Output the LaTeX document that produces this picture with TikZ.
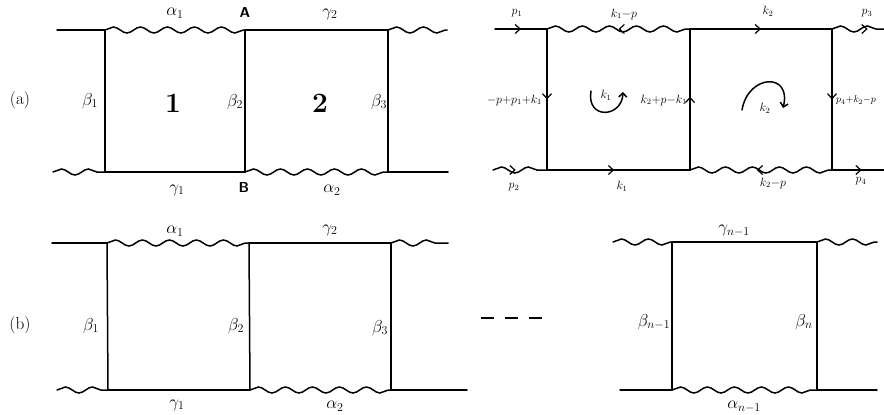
\documentclass[tikz,border=0pt]{standalone}
\usetikzlibrary{decorations.pathmorphing,decorations.markings,arrows.meta}
\tikzset{
  ln/.style={line width=1.5pt, line cap=round},
  wv/.style={line width=1.5pt, line cap=round, decorate, decoration={snake, segment length=27pt, amplitude=3pt}},
  midarr/.style={decoration={markings, mark=at position #1 with {\arrow[line width=1.2pt]{Straight Barb[length=5pt,width=9pt]}}}, postaction=decorate},
  lbl/.style={font=\LARGE, inner sep=1pt},
  slbl/.style={font=\large, inner sep=1pt},
  tag/.style={font=\LARGE, inner sep=1pt},
  big/.style={font=\fontsize{28}{28}\selectfont\bfseries, inner sep=1pt},
  vtx/.style={font=\Large\bfseries\sffamily, inner sep=1pt},
}
\begin{document}
\begin{tikzpicture}[x=1pt,y=-1pt]
\useasboundingbox (0,0) rectangle (884,415);
% ---------------- (a) left ----------------
\coordinate (a1) at (57,30); \coordinate (a2) at (105,30); \coordinate (a3) at (245,30);
\coordinate (a4) at (388,30); \coordinate (a5) at (447,30);
\coordinate (b0) at (53,172); \coordinate (b1) at (105,172); \coordinate (b2) at (245,172);
\coordinate (b3) at (388,172); \coordinate (b4) at (448,172);
\draw[ln] (a1) -- (a2);
\draw[wv] (a2) -- (a3);
\draw[ln] (a3) -- (a4);
\draw[wv] (a4) -- (a5);
\draw[wv] (b0) -- (b1);
\draw[ln] (b1) -- (b2);
\draw[wv] (b2) -- (b3);
\draw[ln] (b3) -- (b4);
\draw[ln] (a2) -- (b1);
\draw[ln] (a3) -- (b2);
\draw[ln] (a4) -- (b3);
\node[tag] (ta) at (20,100) {(a)};
\node[lbl] (la1) at (175,13) {$\alpha_1$};
\node[vtx] (lA) at (245,13) {A};
\node[lbl] (lg2) at (330,14) {$\gamma_2$};
\node[lbl] (lb1) at (90,101) {$\beta_1$};
\node[big] (n1) at (173,103) {1};
\node[lbl] (lb2) at (235,102) {$\beta_2$};
\node[big] (n2) at (320,103) {2};
\node[lbl] (lb3) at (379,102) {$\beta_3$};
\node[lbl] (lg1) at (177,190) {$\gamma_1$};
\node[vtx] (lB) at (244,188) {B};
\node[lbl] (la2) at (332,190) {$\alpha_2$};
% ---------------- (a) right ----------------
\coordinate (c0) at (495,29); \coordinate (c1) at (547,29); \coordinate (c2) at (690,29);
\coordinate (c3) at (832,29); \coordinate (c4) at (886,29);
\coordinate (d0) at (493,170); \coordinate (d1) at (547,170); \coordinate (d2) at (690,170);
\coordinate (d3) at (832,170); \coordinate (d4) at (886,170);
\draw[ln,midarr=0.5] (c0) -- (c1);
\draw[wv] (c1) -- (c2);
\path[midarr=0.5] (c2) -- (c1);
\draw[ln,midarr=0.5] (c2) -- (c3);
\draw[wv] (c3) -- (c4);
\path[midarr=0.66] (c3) -- (c4);
\draw[wv] (d0) -- (d1);
\path[midarr=0.42] (d0) -- (d1);
\draw[ln,midarr=0.47] (d1) -- (d2);
\draw[wv] (d2) -- (d3);
\path[midarr=0.53] (d3) -- (d2);
\draw[ln,midarr=0.55] (d3) -- (d4);
\draw[ln,midarr=0.5] (c1) -- (d1);
\draw[ln,midarr=0.52] (d2) -- (c2);
\draw[ln,midarr=0.5] (c3) -- (d3);
\node[slbl] (lp1) at (517,13) {$p_1$};
\node[slbl] (lk1p) at (624,14) {$k_1{-}p$};
\node[slbl] (lk2) at (768,11) {$k_2$};
\node[slbl] (lp3) at (867,13) {$p_3$};
\node[slbl,anchor=east] (lm1) at (543,100) {$-p{+}p_1{+}k_1$};
\node[slbl,anchor=east] (lm2) at (688,100) {$k_2{+}p{-}k_1$};
\node[slbl,anchor=west,font=\normalsize] (lm3) at (835,100) {$p_4{+}k_2{-}p$};
\node[slbl] (lp2) at (514,187) {$p_2$};
\node[slbl] (lk1) at (622,186) {$k_1$};
\node[slbl] (lk2p) at (773,183) {$k_2{-}p$};
\node[slbl] (lp4) at (861,181) {$p_4$};
% loop arrows
\coordinate (u0) at (591,91); \coordinate (u1) at (623,92);
\draw[ln,-{Straight Barb[length=4pt,width=8pt]}] (u0) .. controls (586,120) and (622,118) .. (u1);
\node[slbl] (lk1loop) at (606,95) {$k_1$};
\coordinate (v0) at (742,110); \coordinate (v1) at (783,108);
\draw[ln,-{Straight Barb[length=4pt,width=8pt]}] (v0) .. controls (748,74) and (792,72) .. (v1);
\node[slbl] (lk2loop) at (765,108) {$k_2$};
% ---------------- (b) left ----------------
\coordinate (e1) at (52,243); \coordinate (e2) at (107,243); \coordinate (e3) at (249,243);
\coordinate (e4) at (391,243); \coordinate (e5) at (448,243);
\coordinate (f0) at (57,390); \coordinate (f1) at (108,390); \coordinate (f2) at (250,390);
\coordinate (f3) at (391,390); \coordinate (f4) at (467,390);
\draw[ln] (e1) -- (e2);
\draw[wv] (e2) -- (e3);
\draw[ln] (e3) -- (e4);
\draw[wv] (e4) -- (e5);
\draw[wv] (f0) -- (f1);
\draw[ln] (f1) -- (f2);
\draw[wv] (f2) -- (f3);
\draw[ln] (f3) -- (f4);
\draw[ln] (e2) -- (f1);
\draw[ln] (e3) -- (f2);
\draw[ln] (e4) -- (f3);
\node[tag] (tb) at (20,325) {(b)};
\node[lbl] (lba1) at (175,231) {$\alpha_1$};
\node[lbl] (lbg2) at (330,230) {$\gamma_2$};
\node[lbl] (lbb1) at (91,326) {$\beta_1$};
\node[lbl] (lbb2) at (236,326) {$\beta_2$};
\node[lbl] (lbb3) at (380,328) {$\beta_3$};
\node[lbl] (lbg1) at (177,405) {$\gamma_1$};
\node[lbl] (lba2) at (335,406) {$\alpha_2$};
% dashes
\coordinate (h0) at (481,318); \coordinate (h1) at (542,318);
\draw[line width=2.4pt, dash pattern=on 13pt off 11pt] (h0) -- (h1);
% ---------------- (b) right ----------------
\coordinate (g0) at (613,242); \coordinate (g1) at (672,242); \coordinate (g2) at (817,242);
\coordinate (g3) at (877,242);
\coordinate (k0) at (620,390); \coordinate (k1) at (672,390); \coordinate (k2) at (817,390);
\coordinate (k3) at (877,390);
\draw[wv] (g0) -- (g1);
\draw[ln] (g1) -- (g2);
\draw[wv] (g2) -- (g3);
\draw[ln] (k0) -- (k1);
\draw[wv] (k1) -- (k2);
\draw[ln] (k2) -- (k3);
\draw[ln] (g1) -- (k1);
\draw[ln] (g2) -- (k2);
\node[lbl] (lgn) at (734,231) {$\gamma_{n-1}$};
\node[lbl] (lbn1) at (654,322) {$\beta_{n-1}$};
\node[lbl] (lbn) at (804,322) {$\beta_n$};
\node[lbl] (lan) at (744,407) {$\alpha_{n-1}$};
\end{tikzpicture}
\end{document}
